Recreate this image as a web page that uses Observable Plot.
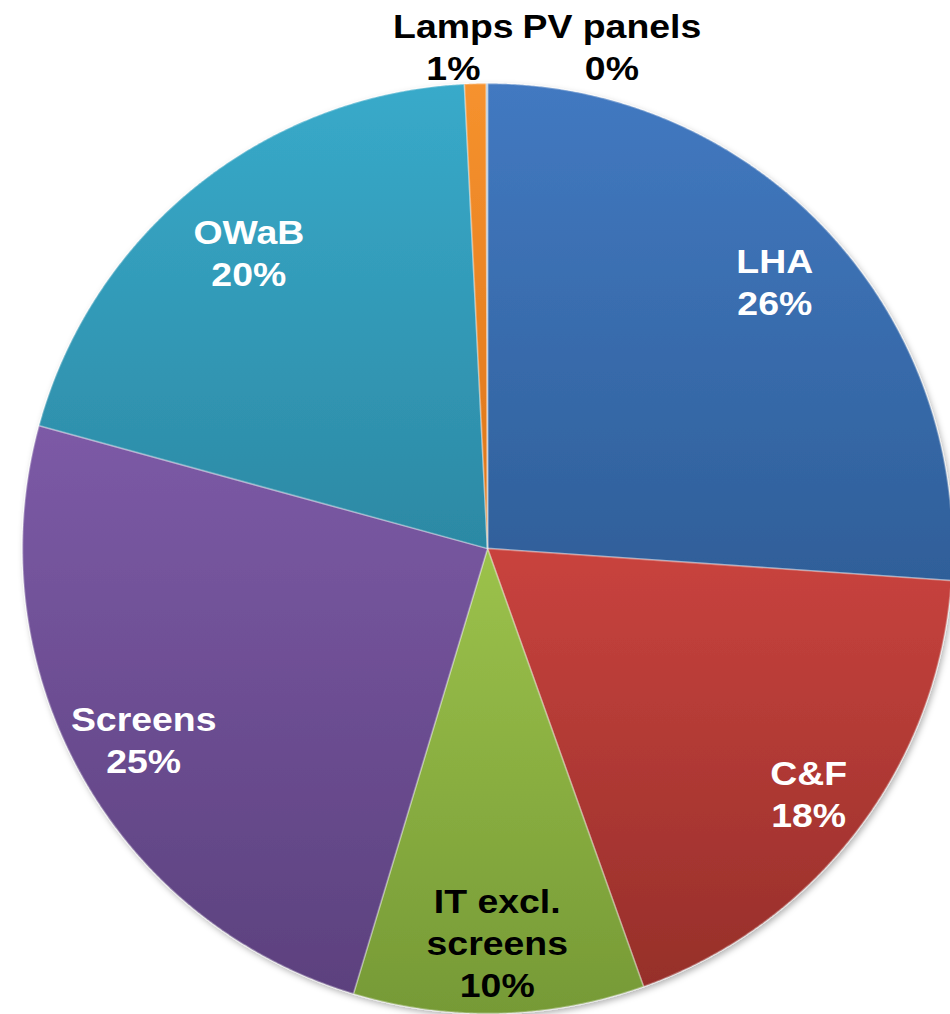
<!DOCTYPE html>
<html>
<head>
<meta charset="utf-8">
<script src="https://cdn.jsdelivr.net/npm/d3@7"></script>
<script src="https://cdn.jsdelivr.net/npm/@observablehq/plot@0.6"></script>
<style>
  html, body { margin: 0; padding: 0; background: #ffffff; }
  #chart { width: 950px; height: 1014px; }
</style>
</head>
<body>
<div id="chart"></div>
<script>
// ---- Data ----
const categories = ["LHA", "C&F", "IT excl.\nscreens", "Screens", "OWaB", "Lamps", "PV panels"];
const shares = [26.1, 18.45, 10.1, 24.6, 19.95, 0.75, 0.04];
const topColors = ["#4279c1", "#c9433e", "#9cc24b", "#7c5aa6", "#38aaca", "#f6922e", "#9bbbd9"];
const bottomColors = ["#2f5f99", "#962f2a", "#769a36", "#5c417e", "#2c89a4", "#dc7419", "#7d9fc2"];
const whiteLabel = [true, true, false, true, true, false, false];
const outside = [false, false, false, false, false, true, true];

// ---- Layout ----
const W = 950, H = 1014;
const cx = 487, cy = 548, R = 465;
const labelFrac = 0.845;
const labelFracAdjust = {"C&F": 0.867, "OWaB": 0.82};
const outsideGap = 38;
const outsideShift = {"Lamps": -21, "PV panels": 125};
const textStretch = 1.1;
const fontFamily = "'Liberation Sans', Arial, Helvetica, sans-serif";

const arcs = d3.pie().sort(null).value(d => d)(shares);
const px = (r, a) => cx + r * Math.sin(a);
const py = (r, a) => cy - r * Math.cos(a);

const slicePoints = [];
arcs.forEach((a, i) => {
  const name = categories[i];
  const n = Math.max(2, Math.ceil((a.endAngle - a.startAngle) / 0.004));
  slicePoints.push({name, x: cx, y: cy});
  for (let k = 0; k <= n; k++) {
    const t = a.startAngle + (a.endAngle - a.startAngle) * k / n;
    slicePoints.push({name, x: px(R, t), y: py(R, t)});
  }
});

const labels = arcs.map((a, i) => {
  const mid = (a.startAngle + a.endAngle) / 2;
  const name = categories[i];
  const r = outside[i] ? R + outsideGap : R * (labelFracAdjust[name] ?? labelFrac);
  return {
    x: px(r, mid) + (outside[i] ? outsideShift[name] : 0),
    y: outside[i] ? cy - r : py(r, mid),
    text: name + "\n" + Math.round(shares[i]) + "%",
    white: whiteLabel[i]
  };
});

const textOpts = {
  x: "x", y: "y", text: "text",
  fontSize: 34, fontWeight: "bold", fontFamily,
  lineHeight: 1.235, textAnchor: "middle", lineAnchor: "middle"
};

const chart = Plot.plot({
  width: W,
  height: H,
  margin: 0,
  x: {domain: [0, W], range: [0, W], axis: null},
  y: {domain: [0, H], range: [0, H], axis: null},
  color: {type: "ordinal", domain: categories, range: topColors},
  marks: [
    Plot.line(slicePoints, {
      x: "x", y: "y", z: "name", fill: "name",
      curve: "linear-closed",
      stroke: "#ffffff", strokeOpacity: 0.3, strokeWidth: 1.8, strokeLinejoin: "round"
    }),
    Plot.text(labels.filter(d => d.white), {...textOpts, fill: "white"}),
    Plot.text(labels.filter(d => !d.white), {...textOpts, fill: "black"})
  ]
});

// styling: slightly wide label glyphs, vertical gradients per slice, soft shadow
const svg = d3.select(chart);
svg.selectAll('g[aria-label="text"] > text').each(function() {
  const t = this.getAttribute("transform");
  if (t) this.setAttribute("transform", t + ` scale(${textStretch},1)`);
});
const defs = svg.insert("defs", ":first-child");
categories.forEach((c, i) => {
  const g = defs.append("linearGradient")
    .attr("id", "pgrad" + i).attr("x1", 0).attr("y1", 0).attr("x2", 0).attr("y2", 1);
  g.append("stop").attr("offset", "0%").attr("stop-color", topColors[i]);
  g.append("stop").attr("offset", "100%").attr("stop-color", bottomColors[i]);
});
const f = defs.append("filter").attr("id", "pshadow")
  .attr("x", "-5%").attr("y", "-5%").attr("width", "112%").attr("height", "112%");
f.append("feDropShadow").attr("dx", 2).attr("dy", 3).attr("stdDeviation", 3)
  .attr("flood-color", "#000000").attr("flood-opacity", 0.3);

const colorIndex = new Map(topColors.map((c, i) => [d3.color(c).formatHex(), i]));
const lineGroup = svg.select('g[aria-label="line"]');
lineGroup.selectAll("path").each(function() {
  const fill = this.getAttribute("fill");
  const c = fill ? d3.color(fill) : null;
  const key = c ? c.formatHex() : null;
  if (key && colorIndex.has(key)) this.setAttribute("fill", `url(#pgrad${colorIndex.get(key)})`);
});
lineGroup.attr("filter", "url(#pshadow)");
document.getElementById("chart").appendChild(chart);
</script>
</body>
</html>
